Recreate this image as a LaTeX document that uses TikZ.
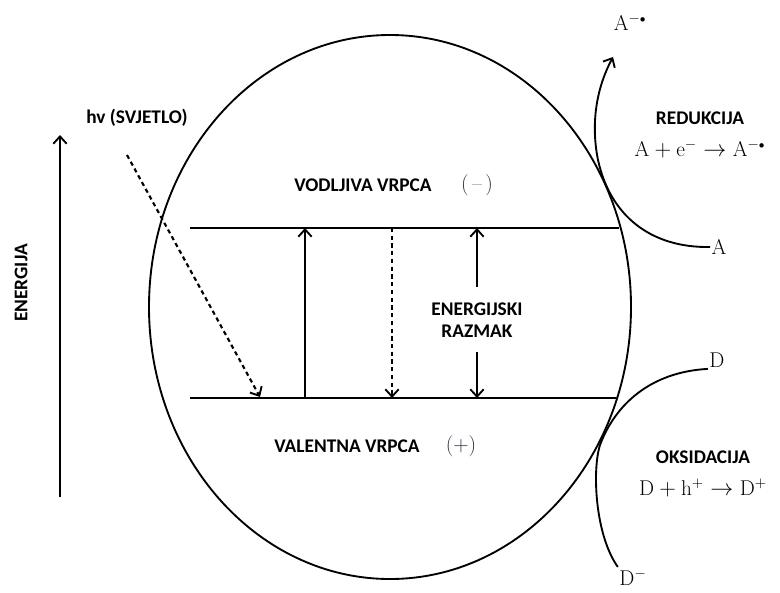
\documentclass[tikz,border=0pt]{standalone}
\usepackage{amsmath,amssymb}
\usepackage{fontspec}
\setsansfont{Carlito}
\usepackage{tikz}
\usetikzlibrary{shapes,arrows,arrows.meta,positioning,calc}
\definecolor{signgray}{RGB}{45,48,62}

\begin{document}
\begin{tikzpicture}[
    x=0.75pt, y=-0.75pt,
    label/.style={font=\sffamily\bfseries\fontsize{14.5}{17}\selectfont, align=center, inner sep=1pt},
    chem/.style={font=\fontsize{16}{18}\selectfont, inner sep=1pt},
    band/.style={line width=1.8pt},
    arrow/.style={-{Straight Barb[length=5.5pt, width=10pt, line width=1.4pt]}, line width=1.5pt},
    dotarrow/.style={-{Straight Barb[length=5.5pt, width=10pt, line width=1.4pt]}, line width=1.6pt, dash pattern=on 3.2pt off 2.6pt},
]
    \useasboundingbox (0,0) rectangle (780,592);
    % Particle
    \node[ellipse, draw, line width=1.4pt, minimum width=361.5pt, minimum height=408pt, inner sep=0pt] (particle) at (390,307) {};

    % Bands
    \coordinate (cbL) at (190,228);
    \coordinate (cbR) at (619,228);
    \coordinate (vbL) at (190,398);
    \coordinate (vbR) at (618,398);
    \draw[band] (cbL) -- (cbR);
    \draw[band] (vbL) -- (vbR);
    \node[label] (cb) at (363,185) {VODLJIVA VRPCA};
    \node[chem, text=signgray] (minus) at (477,185) {(\,–\,)};
    \node[label] (vb) at (347,446) {VALENTNA VRPCA};
    \node[chem, text=signgray] (plus) at (461,446) {(+)};

    % Transitions
    \coordinate (exB) at (305,398);
    \coordinate (exT) at (305,228);
    \draw[arrow] (exB) -- (exT);
    \coordinate (reT) at (392,228);
    \coordinate (reB) at (392,398);
    \draw[dotarrow] (reT) -- (reB);

    % Gap
    \node[label] (gap) at (477,320) {ENERGIJSKI\\RAZMAK};
    \coordinate (gapT) at (477,228);
    \coordinate (gapB) at (477,398);
    \draw[arrow] ($(gap.north)+(0,-14)$) -- (gapT);
    \draw[arrow] ($(gap.south)+(0,13)$) -- (gapB);

    % Light
    \node[label] (light) at (137,118) {hv (SVJETLO)};
    \coordinate (lightS) at (127,155);
    \coordinate (lightE) at (260,397);
    \draw[dotarrow] (lightS) -- (lightE);

    % Energy axis
    \coordinate (enB) at (60,497);
    \coordinate (enT) at (60,135);
    \draw[arrow] (enB) -- (enT);
    \node[label, rotate=90] (energy) at (21,283) {ENERGIJA};

    % Reduction
    \node[chem] (A) at (719,247) {A};
    \node[chem] (Aminus) at (630,22) {A$^{-\scriptscriptstyle\bullet}$};
    \coordinate (Atip) at (613,57);
    \draw[arrow, line width=1.4pt] (A.west) .. controls (650,248) and (610,215) .. (598,160)
        .. controls (590,120) and (598,85) .. (Atip);
    \node[label] (red) at (700,118) {REDUKCIJA};
    \node[chem, below=9pt of red] (redeq) {$\mathrm{A}+\mathrm{e}^{-}\rightarrow\mathrm{A}^{-\scriptscriptstyle\bullet}$};

    % Oxidation
    \node[chem] (D) at (717,360) {D};
    \node[chem] (Dminus) at (633,577) {D$^{-}$};
    \draw[line width=1.4pt] (D.south west) .. controls (650,372) and (615,405) .. (600,445)
        .. controls (592,470) and (595,535) .. (Dminus.north west);
    \node[label] (ox) at (703,457) {OKSIDACIJA};
    \node[chem, below=9pt of ox] (oxeq) {$\mathrm{D}+\mathrm{h}^{+}\rightarrow\mathrm{D}^{+}$};
\end{tikzpicture}
\end{document}
